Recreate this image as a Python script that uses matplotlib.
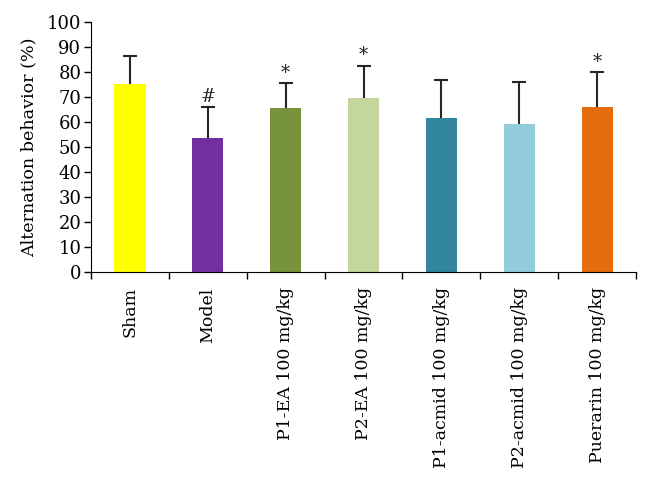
import numpy as np
import matplotlib.pyplot as plt
from matplotlib.ticker import FixedLocator

groups = ["Sham", "Model", "P1-EA 100 mg/kg", "P2-EA 100 mg/kg",
          "P1-acmid 100 mg/kg", "P2-acmid 100 mg/kg", "Puerarin 100 mg/kg"]
means = [75.2, 53.7, 65.6, 69.7, 61.5, 59.2, 65.9]
errors = [11.3, 12.3, 10.0, 12.8, 15.2, 16.7, 14.0]
marks = ["", "#", "*", "*", "", "", "*"]
colors = ["#FFFF00", "#7030A0", "#77933C", "#C3D69B", "#31859C", "#93CDDD", "#E46C0A"]

plt.rcParams['font.family'] = ['DejaVu Serif']

fig = plt.figure(figsize=(6.51, 4.86), dpi=100)
ax = fig.add_axes([0.1398, 0.4403, 0.8372, 0.5144])

x = np.arange(len(groups))
ax.bar(x, means, width=0.4, color=colors, zorder=2)
# upper error bars only, cap on top
eb = ax.errorbar(x, means, yerr=[np.zeros(len(means)), errors], fmt="none",
                 ecolor="#262626", elinewidth=1.5, capsize=4.7, capthick=1.5, zorder=3)
eb[1][0].set_visible(False)

for xi, m, e, s in zip(x, means, errors, marks):
    if s:
        ax.text(xi, m + e + 0.6, s, ha="center", va="bottom", fontsize=13, color="#262626")

ax.set_xlim(-0.5, len(groups) - 0.5)
ax.set_ylim(0, 100)
ax.set_yticks(range(0, 101, 10))
ax.tick_params(axis="y", labelsize=13, length=5, width=1, pad=2)

ax.set_xticks(x)
ax.set_xticklabels(groups, rotation=90, fontsize=12.5)
ax.tick_params(axis="x", which="major", length=0, pad=11)
ax.xaxis.set_minor_locator(FixedLocator(np.arange(-0.5, len(groups), 1.0)))
ax.tick_params(axis="x", which="minor", length=5, width=1)

ax.spines["top"].set_visible(False)
ax.spines["right"].set_visible(False)
ax.set_ylabel("Alternation behavior (%)", fontsize=12.6, labelpad=7)

plt.savefig("out.png", dpi=100)
